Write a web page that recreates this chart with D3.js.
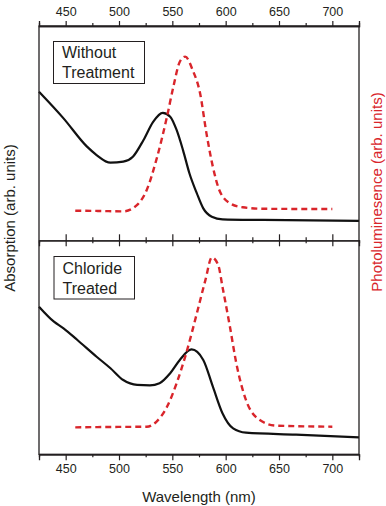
<!DOCTYPE html>
<html>
<head>
<meta charset="utf-8">
<script src="https://cdn.jsdelivr.net/npm/d3@7"></script>
<style>
  html, body { margin: 0; padding: 0; background: #fff; }
  svg text { font-family: "Liberation Sans", Arial, sans-serif; }
</style>
</head>
<body>
<div id="chart"></div>
<script>
// wavelength (nm) ticks
const majorTicks = [450, 500, 550, 600, 650, 700];
const minorTicks = [475, 525, 575, 625, 675];

// top panel: without treatment (arb. units, 0-1 of panel height)
const absUntreatedNm = [425, 448, 470, 479, 492, 504, 513, 523, 532, 541, 548, 554, 560, 566, 573, 579, 587, 597, 635, 725];
const absUntreated   = [0.693, 0.569, 0.437, 0.398, 0.362, 0.367, 0.390, 0.468, 0.553, 0.595, 0.577, 0.515, 0.421, 0.313, 0.219, 0.149, 0.110, 0.098, 0.095, 0.091];
const plUntreatedNm  = [459, 480, 504, 517, 526, 535, 545, 551, 557, 562, 569, 576, 582, 588, 594, 604, 616, 635, 700];
const plUntreated    = [0.138, 0.137, 0.135, 0.165, 0.235, 0.375, 0.577, 0.717, 0.833, 0.857, 0.795, 0.686, 0.499, 0.343, 0.235, 0.173, 0.154, 0.147, 0.146];

// bottom panel: chloride treated
const absTreatedNm = [425, 439, 448, 461, 479, 492, 504, 517, 529, 538, 548, 557, 568, 579, 588, 597, 607, 619, 666, 725];
const absTreated   = [0.690, 0.620, 0.589, 0.534, 0.456, 0.402, 0.347, 0.324, 0.322, 0.332, 0.379, 0.441, 0.490, 0.441, 0.316, 0.192, 0.121, 0.101, 0.092, 0.079];
const plTreatedNm  = [459, 500, 526, 535, 545, 554, 563, 573, 581, 587, 593, 597, 604, 610, 619, 632, 647, 700];
const plTreated    = [0.126, 0.128, 0.129, 0.152, 0.222, 0.332, 0.472, 0.659, 0.814, 0.920, 0.885, 0.783, 0.596, 0.425, 0.254, 0.160, 0.134, 0.129];

const panelLabels = [["Without", "Treatment"], ["Chloride", "Treated"]];

const W = 386, H = 506;
const plotL = 39, plotR = 359, plotT = 26, plotMid = 240.3, plotB = 454.3;
const ink = "#231f20", red = "#d9252b";

const svg = d3.select("#chart").append("svg")
  .attr("width", W).attr("height", H);

const x = d3.scaleLinear().domain([425, 725]).range([plotL, plotR]);
const yTop = d3.scaleLinear().domain([0, 1]).range([plotMid, plotT]);
const yBot = d3.scaleLinear().domain([0, 1]).range([plotB, plotMid]);

const zip = (a, b) => a.map((d, i) => [d, b[i]]);

function drawLine(nm, vals, y, color, dashed) {
  const line = d3.line()
    .x(d => x(d[0]))
    .y(d => y(d[1]))
    .curve(d3.curveMonotoneX);
  svg.append("path")
    .datum(zip(nm, vals))
    .attr("fill", "none")
    .attr("stroke", color)
    .attr("stroke-width", dashed ? 2.4 : 2.2)
    .attr("stroke-dasharray", dashed ? "6,4" : null)
    .attr("d", line);
}

drawLine(absUntreatedNm, absUntreated, yTop, "#111", false);
drawLine(plUntreatedNm, plUntreated, yTop, red, true);
drawLine(absTreatedNm, absTreated, yBot, "#111", false);
drawLine(plTreatedNm, plTreated, yBot, red, true);

// frame
svg.append("rect")
  .attr("x", plotL).attr("y", plotT)
  .attr("width", plotR - plotL).attr("height", plotB - plotT)
  .attr("fill", "none").attr("stroke", ink).attr("stroke-width", 1.3);

function styleAxis(g) {
  g.select(".domain").attr("stroke", ink).attr("stroke-width", 1.3);
  g.selectAll(".tick line").attr("stroke", ink).attr("stroke-width", 1.2);
  g.selectAll(".tick text")
    .attr("fill", ink)
    .style("font-size", "12.5px")
    .style("font-family", "'Liberation Sans', Arial, sans-serif");
}

// top axis
svg.append("g").attr("transform", `translate(0,${plotT})`)
  .call(d3.axisTop(x).tickValues(majorTicks).tickSize(5).tickPadding(5).tickFormat(d3.format("d")))
  .call(styleAxis);
svg.append("g").attr("transform", `translate(0,${plotT})`)
  .call(d3.axisTop(x).tickValues(minorTicks).tickSize(3).tickFormat(""))
  .call(styleAxis);

// bottom axis
svg.append("g").attr("transform", `translate(0,${plotB})`)
  .call(d3.axisBottom(x).tickValues(majorTicks).tickSize(6).tickPadding(4).tickFormat(d3.format("d")))
  .call(styleAxis);
svg.append("g").attr("transform", `translate(0,${plotB})`)
  .call(d3.axisBottom(x).tickValues(minorTicks).tickSize(3).tickFormat(""))
  .call(styleAxis);

// divider between panels, ticks on both sides
const midMajor = svg.append("g").attr("transform", `translate(0,${plotMid})`)
  .call(d3.axisBottom(x).tickValues(majorTicks).tickSize(6).tickFormat(""))
  .call(styleAxis);
midMajor.selectAll(".tick line").attr("y1", -6);
const midMinor = svg.append("g").attr("transform", `translate(0,${plotMid})`)
  .call(d3.axisBottom(x).tickValues(minorTicks).tickSize(3).tickFormat(""))
  .call(styleAxis);
midMinor.selectAll(".tick line").attr("y1", -3);

// panel labels
const boxes = [
  { x: 53.5, y: 41.5, w: 91, h: 42, base: 58 },
  { x: 54, y: 256.5, w: 80.5, h: 42.5, base: 273.5 }
];
boxes.forEach((b, i) => {
  svg.append("rect")
    .attr("x", b.x).attr("y", b.y).attr("width", b.w).attr("height", b.h)
    .attr("fill", "#fff").attr("stroke", ink).attr("stroke-width", 1);
  panelLabels[i].forEach((t, j) => {
    svg.append("text")
      .attr("x", b.x + 8.5).attr("y", b.base + j * 20)
      .attr("fill", ink)
      .style("font-size", "16px")
      .text(t);
  });
});

// axis titles
svg.append("text")
  .attr("x", 199).attr("y", 502)
  .attr("text-anchor", "middle")
  .attr("fill", ink)
  .style("font-size", "15px")
  .text("Wavelength (nm)");

svg.append("text")
  .attr("transform", "translate(15,218) rotate(-90)")
  .attr("text-anchor", "middle")
  .attr("fill", ink)
  .style("font-size", "15px")
  .text("Absorption (arb. units)");

svg.append("text")
  .attr("transform", "translate(382,192) rotate(-90)")
  .attr("text-anchor", "middle")
  .attr("fill", red)
  .style("font-size", "15px")
  .text("Photoluminesence (arb. units)");
</script>
</body>
</html>
